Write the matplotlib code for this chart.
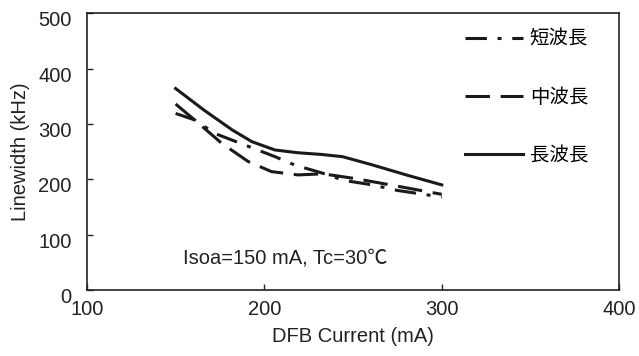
import matplotlib
matplotlib.use('Agg')
import matplotlib.pyplot as plt
import matplotlib.transforms as mtrans

plt.rcParams['font.family'] = ['Liberation Sans', 'Noto Sans CJK JP', 'DejaVu Sans']

# values
long_x = [150, 166, 182, 193, 206, 219, 232, 244, 261, 280, 300]
long_y = [364, 325, 289, 268, 253, 248, 245, 241, 226, 208, 190]

mid_x = [150, 163, 176, 191, 204, 219, 233, 252, 271, 300]
mid_y = [336, 301, 265, 232, 214, 208, 210, 201, 190, 173]

short_x = [150, 161, 172, 189, 206, 217, 233, 245, 261, 275, 300]
short_y = [319, 307, 283, 262, 241, 226, 211, 198, 190, 180, 168]

labels = ['短波長', '中波長', '長波長']

fig = plt.figure(figsize=(6.39, 3.56), dpi=100)
ax = fig.add_axes([0.136, 0.185, 0.833, 0.778])

lw = 2.2
ink = '#1a1a1a'
ax.plot(short_x, short_y, color=ink, lw=lw, dashes=(7, 3.5, 1.3, 3.5), label=labels[0])
ax.plot(mid_x, mid_y, color=ink, lw=lw, dashes=(8, 3.5), label=labels[1])
ax.plot(long_x, long_y, color=ink, lw=lw, label=labels[2])

ax.set_xlim(100, 400)
ax.set_ylim(0, 500)
ax.set_xticks([100, 200, 300, 400])
ax.set_yticks([0, 100, 200, 300, 400, 500])
ax.tick_params(direction='in', length=4, width=1, labelsize=14.5, colors='#222222')
ax.tick_params(axis='x', pad=7)
ax.tick_params(axis='y', pad=11)
off = mtrans.ScaledTranslation(0, -4 / 72, fig.dpi_scale_trans)
for t in ax.get_yticklabels():
    t.set_transform(t.get_transform() + off)
for s in ax.spines.values():
    s.set_linewidth(1.2)
    s.set_color('#222222')

ax.set_xlabel('DFB Current (mA)', fontsize=14.5, color='#222222', labelpad=6)
ax.set_ylabel('Linewidth (kHz)', fontsize=14.5, color='#222222', labelpad=6)

ax.text(0.18, 0.095, 'Isoa=150 mA, Tc=30℃', transform=ax.transAxes,
        fontsize=14.5, color='#222222', va='baseline')

ax.legend(loc='upper left', frameon=False, fontsize=14, handlelength=3.0,
          labelspacing=2.05, bbox_to_anchor=(0.695, 0.965), handletextpad=0.35,
          borderaxespad=0)

fig.savefig('out.png', dpi=100)
